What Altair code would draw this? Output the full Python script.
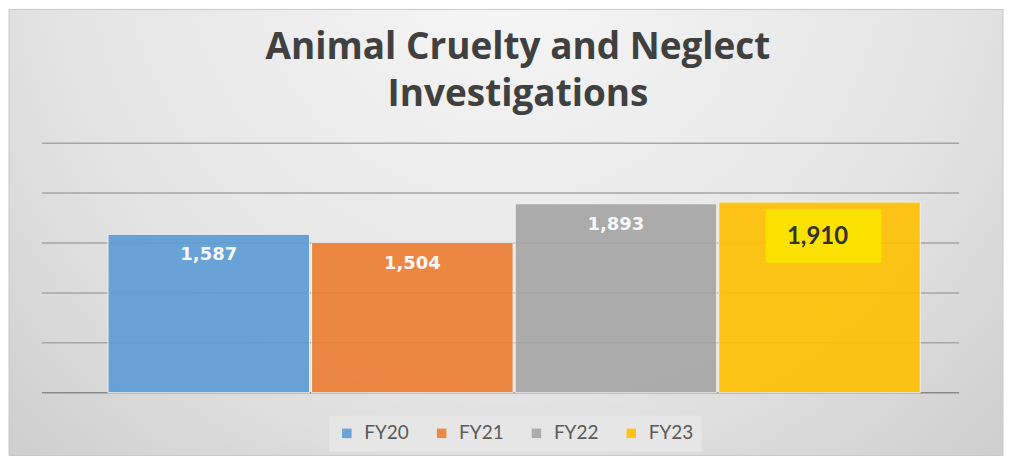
import altair as alt
import pandas as pd

years = ["FY20", "FY21", "FY22", "FY23"]
counts = [1587, 1504, 1893, 1910]
labels = ["1,587", "1,504", "1,893", "1,910"]
colors = ["#5B9BD5", "#ED7D31", "#A5A5A5", "#FFC000"]
highlight = ["FY23"]
grid_values = [0, 500, 1000, 1500, 2000, 2500]
title_lines = ["Animal Cruelty and Neglect", "Investigations"]

df = pd.DataFrame({"year": years, "count": counts, "label": labels})
grid_df = pd.DataFrame({"v": grid_values})

W, H = 919, 250
PL, PR, PT, PB = 33, 44, 134, 63

x_enc = alt.X("year:N", sort=years,
              scale=alt.Scale(paddingInner=0.01, paddingOuter=0.2575, align=0.63),
              axis=None)
y_scale = alt.Scale(domain=[0, 2500], nice=False)

one = alt.Data(values=[{"a": 1}])

bg = alt.Chart(one).mark_rect(
    fill=alt.RadialGradient(
        gradient="radial", x1=0.5, y1=0.2, r1=0.0, x2=0.5, y2=0.2, r2=0.85,
        stops=[alt.GradientStop(offset=0, color="#f8f8f8"),
               alt.GradientStop(offset=0.55, color="#e3e3e3"),
               alt.GradientStop(offset=1, color="#c4c4c4")]),
    stroke="#c8c8c8", strokeWidth=1,
).encode(x=alt.value(-PL), x2=alt.value(W + PR), y=alt.value(-PT), y2=alt.value(H + PB))

title = alt.Chart(one).mark_text(
    font="Open Sans", fontSize=37, fontWeight="bold", color="#404040",
    lineHeight=47, align="center", baseline="alphabetic",
).encode(x=alt.value(477), y=alt.value(-84), text=alt.value(title_lines))

grid = alt.Chart(grid_df).mark_rule(strokeWidth=1.5).encode(
    y=alt.Y("v:Q", scale=y_scale, axis=None),
    color=alt.condition("datum.v === 0", alt.value("#8a8a8a"), alt.value("#a6a6a6")),
)

bars = alt.Chart(df).mark_bar(opacity=0.9, stroke="#f4f4f4", strokeWidth=1).encode(
    x=x_enc,
    y=alt.Y("count:Q", scale=y_scale, axis=None),
    color=alt.Color("year:N", sort=years,
                    scale=alt.Scale(domain=years, range=colors),
                    legend=alt.Legend(title=None, orient="none", direction="horizontal",
                                      legendX=288, legendY=273,
                                      symbolType="square", symbolSize=90,
                                      symbolStrokeWidth=0, symbolOpacity=0.9,
                                      labelFont="Lato", labelFontSize=19,
                                      labelColor="#595959", labelOffset=8,
                                      columnPadding=23, padding=8,
                                      fillColor="#e6e6e6")),
)

txt = alt.Chart(df).transform_filter(
    "datum.year !== 'FY23'"
).mark_text(font="DejaVu Sans", fontWeight="bold", fontSize=18, color="#f7f7f7",
            baseline="middle", dy=21).encode(
    x=alt.X("year:N", sort=years), y=alt.Y("count:Q", scale=y_scale), text="label:N")

box = alt.Chart(df).transform_filter(
    alt.FieldOneOfPredicate(field="year", oneOf=highlight)
).transform_calculate(
    top="datum.count - 70", bottom="datum.count - 610"
).mark_bar(color="#FAE100", size=116, xOffset=4).encode(
    x=alt.X("year:N", sort=years), y=alt.Y("top:Q", scale=y_scale), y2="bottom:Q")

hl = alt.Chart(df).transform_filter(
    alt.FieldOneOfPredicate(field="year", oneOf=highlight)
).mark_text(font="Lato", fontWeight="bold", fontSize=24, color="#333333",
            baseline="middle", dy=35, dx=-2).encode(
    x=alt.X("year:N", sort=years), y=alt.Y("count:Q", scale=y_scale), text="label:N")

chart = alt.layer(bg, title, grid, bars, txt, box, hl).properties(
    width=W, height=H, padding=0,
).configure(background="#ffffff").configure_view(stroke=None)

chart.save("out.html", embed_options={"renderer": "svg", "actions": False})
